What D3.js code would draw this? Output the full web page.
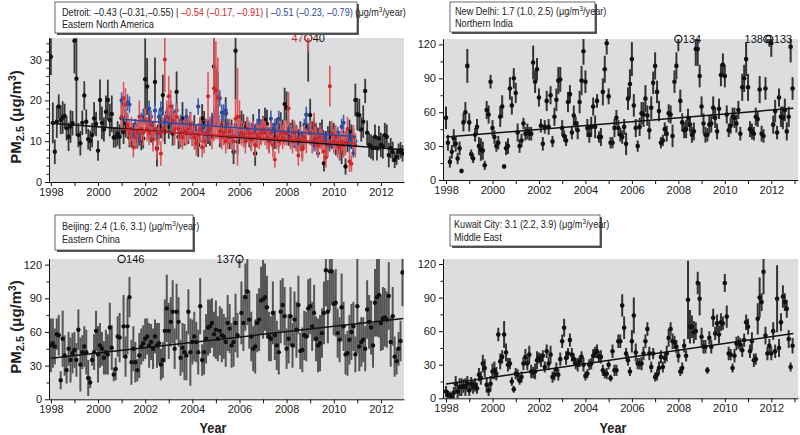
<!DOCTYPE html>
<html><head><meta charset="utf-8">
<script src="https://cdn.jsdelivr.net/npm/d3@7"></script>
<style>
body{margin:0;background:#fff;}
svg{display:block;}
</style></head><body>
<svg id="chart" width="800" height="435"></svg>
<script>
// ---------------- DATA ----------------
const yearLabels = [1998, 2000, 2002, 2004, 2006, 2008, 2010, 2012];

// Detroit (Eastern North America), monthly from Jan 1998
const detroitBlack = [
30.7,14.5,7.4,14.8,18.5,15.2,15.8,16.2,13.2,11.1,13.6,14.4,
34.6,25.3,11.5,9.5,14.5,21.2,14.8,10.5,10.1,11.5,15.6,14.2,
7.7,20.1,14.5,12.9,17.2,20.1,15.2,16.7,10.9,11.0,11.9,11.1,
15.6,12.3,14.4,13.7,11.0,11.1,11.5,12.3,10.7,11.9,10.3,10.7,
25.2,23.4,14.4,12.7,11.9,24.5,8.3,13.6,13.7,21.3,12.3,15.2,
13.6,15.8,11.9,14.4,22.1,11.1,11.5,15.6,11.9,14.8,12.3,14.2,
11.9,13.4,10.3,9.1,12.7,15.6,14.4,11.1,12.3,11.9,13.6,28.3,
22.1,20.9,11.5,13.6,12.3,16.8,12.3,11.1,12.3,7.4,32.2,9.9,
12.3,14.0,13.6,11.9,12.9,11.5,10.3,13.6,7.0,11.5,14.4,12.3,
13.2,15.2,14.2,10.3,12.3,10.5,11.1,12.7,11.5,13.6,12.3,19.1,
18.2,11.9,11.5,12.3,11.3,10.7,9.9,11.9,8.7,11.1,13.6,40,
16.4,11.9,12.7,11.1,10.3,11.5,12.3,4.6,9.5,10.7,11.9,11.1,
11.5,9.5,9.9,8.3,7.4,9.5,3.8,10.3,12.3,11.1,10.3,20.1,
16.6,16.4,12.9,14.8,22.3,12.1,9.1,8.7,8.3,11.1,8.3,10.7,
9.1,8.7,11.5,11.1,6.6,8.3,7.4,5.4,6.2,7.4,7.8,7.0];
const detroitBlackErr = [
4.5,5,3,4,3,3.5,4,3,3,3.5,4,3,
8,14,3,3,3,3.5,3,2.5,2.5,3,4,3,
2.5,5,4,3,4,5,4,4.5,2.5,2.5,3,3,
4,3,3.5,3,2.5,2.5,3,3,2.5,3,2.5,2.5,
10,7,4,3,3,6,4.5,3,3,5,3,3,
3,4,3,3,5,3,3,4,3,3,3,3,
3,3,2.5,3,3,3.5,3,2.5,3,3,3,7,
6,6,3,3,3,4,3,3,3,3,12,3,
3,3.5,3,3,3,3,2.5,3,3,3,3.5,3,
3,3,3.5,3,3,3,3,3,3,3.5,3,4,
4,3,3,3,3,3,3,3,3,3,3,15.4,
4,3,3,3,3,3,3,2,3,3,3,3,
3,3,3,3,3,3,2,3,3,3,3,4,
4,4,3,4,3,3,3,3,3,3,3,3,
3,3,3,3,3,2.5,2.5,2,2,2,2,2];
// red and blue Detroit series, monthly from Jan 2001
const detroitRed = [
16,20.5,19,14,12,13,8.5,11,12,16,13,12,
15,13,12,14,10.5,13,8,12,7,13,30,16,
21,18.5,15,13,16,13,12,11,12.5,12,13,14,
12,11,9.5,11.5,13,8.5,10,12,21,13,11,23,
22.5,20.5,12.5,11,12,10,11,12.5,11,10,15.5,16,
16,12,11.5,10,13,12,10.5,12,9,11.5,11,12,
13,12,11,10,12,9,5.5,11,10,12,11,12,
12,18,11,10,12,10.5,6.5,10.5,8,11,10,47,
12,10,14,10.5,9,11,10,7.5,6,9,23.5,12,
10,11,9,8.5,10,9,9.5,13,5,4.5,11,9];
const detroitRedErr = [
3,4,4,3,3,3,2.5,3,3,4,3,3,
3,3,3,3,3,3,2.5,3,3,3,8,4,
5,4,3,4,3,3,3,3,3,3,3,3,
3,3,3,3,3,2.5,3,3,6,3,3,13,
12,10,3,3,3,3,3,3,3,3,5,12,
4,3,3,3,3,3,3,3,3,3,3,3,
3,3,3,3,3,3,2,3,3,3,3,3,
3,4,3,3,3,3,2.5,3,3,3,3,15,
3,3,3,3,3,3,3,2.5,2.5,3,5,3,
3,3,3,3,3,3,3,3,2.5,2,3,3];
const detroitBlue = [
20,19,16,19.5,19,13,12,14,10,11,15,16,
15.5,14,18,16,13,17.5,12,16,17.8,14,15,17,
16,14,17,15,17.5,14,15,13,13.5,16,14,12,
13,12,12.5,18.5,14,13,11,14,12,14,15,16,
14.5,16,20.5,17,17,17.5,14,13,12,11.5,14,12,
13,12,11,10,14,10.5,13,12,12.5,14,15,12,
14,13,11,12,15.5,13,14,12,15.5,13,12,11,
11,13,12,11.5,10,12.5,9.5,10,11,14,16.5,13,
12,11,9,13,7,12,10,11,10,11.5,9,12,
11,10,12,11,13.5,14.5,10,12,9,10.5,7,10];
const detroitBlueErr = [
2,2,1.5,2,2,1.5,1.5,1.5,1.5,1.5,2,2,
1.5,1.5,2,1.5,1.5,2,1.5,1.5,2,1.5,1.5,2,
1.5,1.5,2,1.5,2,1.5,1.5,1.5,1.5,2,1.5,1.5,
1.5,1.5,1.5,2,1.5,1.5,1.5,1.5,1.5,1.5,2,2,
1.5,2,2,2,2,2,1.5,1.5,1.5,1.5,1.5,1.5,
1.5,1.5,1.5,1.5,1.5,1.5,1.5,1.5,1.5,1.5,2,1.5,
1.5,1.5,1.5,1.5,2,1.5,1.5,1.5,2,1.5,1.5,1.5,
1.5,1.5,1.5,1.5,1.5,1.5,1.5,1.5,1.5,1.5,2,1.5,
1.5,1.5,1.5,1.5,1,1.5,1.5,1.5,1.5,1.5,1.5,1.5,
1.5,1.5,1.5,1.5,2,2,1.5,1.5,1.5,1.5,1,1.5];

// New Delhi (Northern India)
const delhi = [
55,33,16,25,37,32,19,28,8,51,60,101,
51,23,19,40,47,30,27,26,13,62,58,87,
46,38,30,33,56,65,12,28,30,81,66,90,
77,42,30,35,50,41,43,41,41,104,87,98,
73,48,32,47,70,47,75,34,56,71,88,89,
46,39,35,69,76,42,57,50,44,69,88,114,
87,46,40,47,65,47,70,38,38,78,98,121,
74,33,33,46,55,46,40,38,47,32,72,85,
107,66,46,30,47,59,58,72,57,44,64,86,
101,78,61,33,35,45,41,59,58,39,87,101,
134,70,51,44,45,55,49,40,43,116,116,92,
65,50,40,40,49,50,64,55,43,63,93,102,
92,58,44,48,56,55,50,62,41,82,90,107,
82,45,43,41,56,54,80,41,39,81,138,133,
121,49,61,42,73,56,55,62,43,56,118,81];
const delhiErr = [
10,7,5,6,8,7,5,6,2,8,9,15,
8,4,4,6,7,8,10,8,4,8,8,6,
7,6,5,6,9,10,2,6,7,10,8,9,
9,8,6,6,5,6,7,6,6,15,10,10,
8,6,6,6,9,7,8,5,8,10,12,11,
7,5,5,9,8,6,9,6,8,10,13,12,
10,8,7,9,8,10,6,5,8,12,12,10,
7,5,5,8,7,7,6,6,7,10,10,13,
15,10,8,5,8,10,11,12,9,8,10,10,
12,10,9,5,5,6,7,8,8,10,10,12,
20,10,8,7,8,8,7,7,8,15,15,10,
9,9,7,6,8,8,10,9,7,9,10,10,
10,8,6,7,8,9,8,8,6,12,12,15,
12,7,7,6,8,7,12,7,6,10,15,15,
12,8,10,6,8,9,10,10,8,9,14,10];

// Beijing (Eastern China)
const beijing = [
48,50,47,58,57,17,54,39,26,45,35,41,
44,35,62,31,42,47,42,19,15,35,42,61,
40,48,45,37,42,40,64,46,22,27,56,55,
146,65,38,65,91,33,45,33,26,39,47,50,
54,56,48,51,45,56,48,50,31,35,61,81,
61,69,78,45,78,69,37,46,42,39,78,42,
51,56,51,42,83,35,42,54,64,65,68,58,
62,54,61,57,56,51,68,63,48,51,68,57,
137,77,68,91,96,71,56,45,47,68,71,88,
89,91,82,56,54,77,57,48,42,78,84,74,
45,54,74,48,71,62,84,43,44,57,56,81,
83,65,77,54,48,50,59,77,115,78,114,114,
85,86,59,53,82,65,40,41,53,60,65,40,
83,47,51,53,45,80,69,64,48,86,91,93,
68,72,73,71,92,51,74,38,34,45,52,113];
const beijingErr = [
24,22,16,14,18,8,25,18,12,15,20,18,
16,15,18,24,15,18,20,16,5,5,16,18,
25,20,15,15,20,18,22,20,6,10,18,22,
20,28,18,25,18,20,20,18,10,20,16,16,
18,16,20,16,18,15,20,18,14,16,28,30,
25,22,28,18,25,22,16,22,25,22,20,30,
20,22,18,20,25,14,20,22,25,24,22,20,
26,20,22,24,20,22,25,22,20,22,26,20,
20,28,25,30,30,26,22,20,24,26,28,30,
35,30,28,22,20,28,22,22,20,28,24,26,
18,22,26,20,25,25,26,16,20,22,22,26,
25,22,25,20,24,25,22,28,32,28,35,30,
28,30,22,20,30,22,18,20,22,25,22,16,
42,22,22,20,20,26,24,24,20,30,35,38,
25,28,26,25,30,22,26,18,12,15,18,30];

// Kuwait City (Middle East)
const kuwait = [
6,3,3,1,5,13,6,10,10,11,10,13,
7,13,10,12,9,21,18,31,27,12,7,13,
24,25,22,57,33,37,57,41,30,31,15,8,
22,21,16,19,31,37,31,39,24,23,24,34,
36,34,38,28,42,31,39,19,21,26,21,35,
51,63,36,40,52,39,35,31,30,33,37,30,
20,22,30,31,38,41,42,37,37,25,22,22,
30,18,42,25,25,51,51,83,63,40,34,24,
51,74,41,31,31,31,40,51,62,40,28,40,
19,21,27,37,28,36,40,54,62,51,50,46,
38,24,27,47,38,88,64,64,59,60,103,89,
55,46,46,25,54,46,72,58,67,57,68,67,
103,73,40,39,27,38,49,50,48,43,52,68,
64,42,51,34,35,71,90,86,113,56,40,47,
40,60,42,89,45,68,91,86,80,53,28,47];
const kuwaitErr = [
5,4,3,4,5,7,6,8,8,6,8,7,
5,6,6,6,5,6,6,8,8,7,5,7,
7,8,6,6,7,6,12,8,6,5,4,3,
5,5,4,5,6,7,6,8,6,5,7,8,
5,6,5,5,6,6,8,5,5,6,5,6,
6,8,6,5,6,6,5,5,6,5,5,6,
4,4,5,5,6,5,6,5,6,5,4,5,
4,3,6,5,5,6,6,10,10,5,5,4,
10,16,8,5,5,6,6,6,6,6,5,5,
4,5,6,6,5,5,7,8,6,7,6,6,
6,4,5,6,5,35,15,10,10,8,10,15,
8,6,6,3,6,6,8,6,8,8,8,6,
8,10,6,5,4,6,6,6,6,6,6,7,
7,6,8,6,5,14,18,8,20,8,6,6,
6,8,6,30,8,8,10,8,8,8,4,7];

// Trend lines: [year, value] end points
const detroitTrend = [[1998, 14.4], [2012.98, 7.9]];
const detroitRedTrend = [[2001, 12.9], [2010.95, 9.4]];
const detroitBlueTrend = [[2001, 15.4], [2010.95, 11.1]];
const delhiTrend = [[1998, 38], [2012.95, 63.5]];
const beijingTrend = [[1998, 36.5], [2012.95, 72]];
const kuwaitTrend = [[1998, 12.8], [2012.95, 58]];

// ---------------- DRAWING ----------------
const FONT = '"Liberation Sans Narrow","Arial Narrow",Arial,sans-serif';
const GRAY = "#dcdddf";
const RED = "#d0262b";
const BLUE = "#2d4b9b";
const svg = d3.select("#chart");
svg.append("rect").attr("width", 800).attr("height", 435).attr("fill", "#fff");

function drawPanel(p) {
  const x = d3.scaleLinear().domain(p.xd).range(p.xr);
  const y = d3.scaleLinear().domain(p.yd).range(p.yr);
  const [x0, x1] = p.xr, [yb, yt] = p.yr;
  const g = svg.append("g");
  g.append("rect").attr("x", x0).attr("y", yt).attr("width", x1 - x0).attr("height", yb - yt).attr("fill", GRAY);
  const cid = "clip" + p.id;
  svg.append("clipPath").attr("id", cid).append("rect")
    .attr("x", x0).attr("y", yt).attr("width", x1 - x0).attr("height", yb - yt);
  const plot = g.append("g").attr("clip-path", `url(#${cid})`);
  const ymax = p.yd[1];
  const over = [];
  p.series.forEach(s => {
    const data = s.values.map((v, i) => ({ t: s.start + i / 12, v, e: s.err[i], i }));
    plot.append("g").selectAll("line").data(data).join("line")
      .attr("x1", d => x(d.t)).attr("x2", d => x(d.t))
      .attr("y1", d => y(d.v + d.e)).attr("y2", d => y(Math.max(0, d.v - d.e)))
      .attr("stroke", s.barColor).attr("stroke-width", s.barWidth);
    plot.append("g").selectAll("circle").data(data.filter(d => d.v <= ymax)).join("circle")
      .attr("cx", d => x(d.t)).attr("cy", d => y(d.v)).attr("r", s.r).attr("fill", s.dotColor);
    data.filter(d => d.v > ymax).forEach(d => over.push({ d, s }));
  });
  p.trends.forEach(tr => {
    plot.append("line")
      .attr("x1", x(tr.pts[0][0])).attr("y1", y(tr.pts[0][1]))
      .attr("x2", x(tr.pts[1][0])).attr("y2", y(tr.pts[1][1]))
      .attr("stroke", tr.color).attr("stroke-width", 1.5);
  });
  // overflow markers
  over.forEach(({ d, s }) => {
    const cx = x(d.t), cy = y(ymax);
    g.append("circle").attr("cx", cx).attr("cy", cy).attr("r", 3.6)
      .attr("fill", "none").attr("stroke", s.dotColor).attr("stroke-width", 1.1);
    const side = (s.sides && s.sides[d.i]) || "right";
    g.append("text").attr("x", side === "right" ? cx + 4.5 : cx - 4.5).attr("y", cy + 4)
      .attr("text-anchor", side === "right" ? "start" : "end")
      .attr("font-family", FONT).attr("font-size", 11).attr("fill", s.dotColor)
      .text(d3.format("d")(d.v));
  });
  // axes
  const ya = g.append("g").attr("transform", `translate(${x0},0)`);
  ya.call(d3.axisLeft(y).tickValues(p.yMajor).tickSize(4).tickPadding(3).tickSizeOuter(0).tickFormat(d3.format("d")));
  ya.append("g").call(d3.axisLeft(y).tickValues(p.yMinor).tickSize(2.5).tickSizeOuter(0).tickFormat(""));
  const years = d3.range(1998, 2014).filter(v => v >= p.xd[0] && v <= p.xd[1]);
  const xa = g.append("g").attr("transform", `translate(0,${yb})`);
  xa.call(d3.axisBottom(x).tickValues(years).tickSize(4).tickPadding(2).tickSizeOuter(0)
    .tickFormat(v => yearLabels.includes(v) ? String(v) : ""));
  [ya, xa].forEach(a => {
    a.attr("font-family", FONT).attr("font-size", 11);
    a.selectAll("text").attr("fill", "#222");
    a.selectAll("path,line").attr("stroke", "#111");
  });
}

function legendBox(bx, by, bw, bh, lines, tx, baselines) {
  svg.append("rect").attr("x", bx + 2).attr("y", by + 2).attr("width", bw).attr("height", bh).attr("fill", "#555");
  svg.append("rect").attr("x", bx).attr("y", by).attr("width", bw).attr("height", bh)
    .attr("fill", "#fff").attr("stroke", "#444").attr("stroke-width", 0.8);
  lines.forEach((segs, k) => {
    const t = svg.append("text").attr("transform", `translate(${tx},${baselines[k]}) scale(0.87,1)`)
      .attr("font-family", FONT).attr("font-size", 10.5).attr("fill", "#222");
    let pendingDy = 0;
    segs.forEach(sg => {
      if (sg.sup) {
        t.append("tspan").attr("dy", -3.8).attr("font-size", 7.5).text(sg.t);
        pendingDy = 3.8;
      } else {
        const ts = t.append("tspan").attr("fill", sg.c || "#222").text(sg.t);
        if (pendingDy) { ts.attr("dy", pendingDy); pendingDy = 0; }
      }
    });
  });
}

function yTitle(cx, cy) {
  const t = svg.append("text").attr("transform", `translate(${cx},${cy}) rotate(-90)`)
    .attr("text-anchor", "middle").attr("font-family", FONT).attr("font-weight", "bold")
    .attr("font-size", 15).attr("fill", "#222");
  t.append("tspan").text("PM");
  t.append("tspan").attr("dy", 3).attr("font-size", 11).text("2.5");
  t.append("tspan").attr("dy", -3).text(" (μg/m");
  t.append("tspan").attr("dy", -5).attr("font-size", 10).text("3");
  t.append("tspan").attr("dy", 5).text(")");
}
function xTitle(cx, cy) {
  svg.append("text").attr("transform", `translate(${cx},${cy}) scale(0.88,1)`).attr("text-anchor", "middle")
    .attr("font-family", FONT).attr("font-weight", "bold").attr("font-size", 14.5).attr("fill", "#222").text("Year");
}

const xdL = [1997.92, 2012.98], xrL = [49, 404];
const xdR = [1997.87, 2013.15], xrR = [443, 798];

drawPanel({
  id: 1, xd: xdL, xr: xrL, yd: [0, 35.3], yr: [182, 38],
  yMajor: [0, 10, 20, 30], yMinor: d3.range(2, 36, 2).filter(v => v % 10 !== 0),
  series: [
    { values: detroitBlack, err: detroitBlackErr, start: 1998, barColor: "#3a3a3a", barWidth: 1.8, dotColor: "#111", r: 2.2, sides: {} },
    { values: detroitBlue, err: detroitBlueErr, start: 2001, barColor: "#3f5fae", barWidth: 1.6, dotColor: BLUE, r: 2.1 },
    { values: detroitRed, err: detroitRedErr, start: 2001, barColor: "#e05558", barWidth: 1.6, dotColor: RED, r: 2.0, sides: { 95: "left" } }
  ],
  trends: [{ pts: detroitTrend, color: "#111" }, { pts: detroitBlueTrend, color: BLUE }, { pts: detroitRedTrend, color: RED }]
});
drawPanel({
  id: 2, xd: xdR, xr: xrR, yd: [0, 124.8], yr: [180, 39],
  yMajor: [0, 30, 60, 90, 120], yMinor: [15, 45, 75, 105],
  series: [{ values: delhi, err: delhiErr, start: 1998, barColor: "#333", barWidth: 2, dotColor: "#111", r: 2.3, sides: { 166: "left" } }],
  trends: [{ pts: delhiTrend, color: "#111" }]
});
drawPanel({
  id: 3, xd: xdL, xr: xrL, yd: [0, 125], yr: [399.3, 259],
  yMajor: [0, 30, 60, 90, 120], yMinor: [15, 45, 75, 105],
  series: [{ values: beijing, err: beijingErr, start: 1998, barColor: "#555", barWidth: 2, dotColor: "#111", r: 2.2, sides: { 96: "left" } }],
  trends: [{ pts: beijingTrend, color: "#111" }]
});
drawPanel({
  id: 4, xd: xdR, xr: xrR, yd: [0, 124.5], yr: [398.3, 259],
  yMajor: [0, 30, 60, 90, 120], yMinor: [15, 45, 75, 105],
  series: [{ values: kuwait, err: kuwaitErr, start: 1998, barColor: "#333", barWidth: 2, dotColor: "#111", r: 2.3 }],
  trends: [{ pts: kuwaitTrend, color: "#111" }]
});

legendBox(55, 2, 302, 31, [
  [{ t: "Detroit: –0.43 (–0.31,–0.55) | " }, { t: "–0.54 (–0.17, –0.91)", c: RED }, { t: " | " },
   { t: "–0.51 (–0.23, –0.79)", c: BLUE }, { t: " (μg/m" }, { t: "3", sup: true }, { t: "/year)" }],
  [{ t: "Eastern North America" }]
], 62, [15.5, 28]);
legendBox(450, 2, 145, 30, [
  [{ t: "New Delhi: 1.7 (1.0, 2.5) (μg/m" }, { t: "3", sup: true }, { t: "/year)" }],
  [{ t: "Northern India" }]
], 455, [15, 27]);
legendBox(55, 215, 138, 35, [
  [{ t: "Beijing: 2.4 (1.6, 3.1) (μg/m" }, { t: "3", sup: true }, { t: "/year)" }],
  [{ t: "Eastern China" }]
], 62, [229.5, 242.5]);
legendBox(450, 215, 150, 31, [
  [{ t: "Kuwait City: 3.1 (2.2, 3.9) (μg/m" }, { t: "3", sup: true }, { t: "/year)" }],
  [{ t: "Middle East" }]
], 454, [228, 240.5]);

yTitle(20.5, 117);
yTitle(20.5, 327);
xTitle(213, 433);
xTitle(613, 433);
</script>
</body></html>
